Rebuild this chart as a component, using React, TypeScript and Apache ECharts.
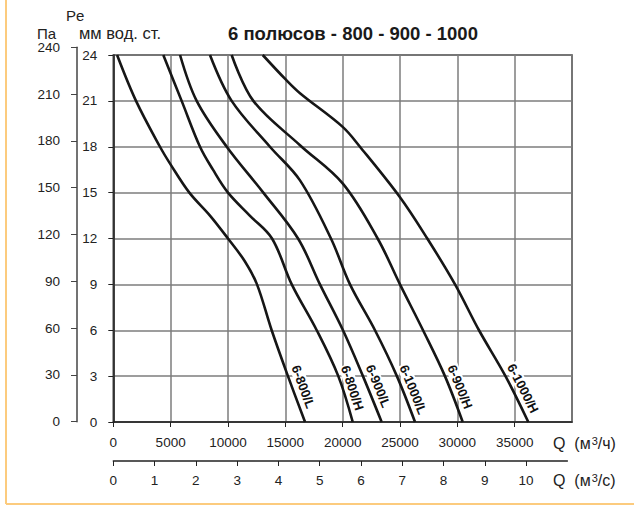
import React, { useEffect, useRef } from 'react';
import * as echarts from 'echarts';

// ---- Data (Q in m³/h, Pe in mm w.c.) ----
const curveNames = ['6-800/L', '6-800/H', '6-900/L', '6-1000/L', '6-900/H', '6-1000/H'];

const curve800L: [number, number][] = [
  [330, 24], [1980, 21], [4070, 18], [5030, 16.8], [6630, 15], [8430, 13.5],
  [10000, 12], [11480, 10.5], [12530, 9], [13810, 6], [15230, 3], [16720, 0],
];
const curve800H: [number, number][] = [
  [4360, 24], [5960, 21], [7560, 18], [8690, 16.5], [10000, 15], [11900, 13.5], [13840, 12],
  [15560, 9], [17740, 6], [19620, 3], [20880, 0],
];
const curve900L: [number, number][] = [
  [5820, 24], [7270, 21], [9890, 18], [13080, 15], [16110, 12],
  [18020, 9], [20030, 6], [21770, 3], [23400, 0],
];
const curve1000L: [number, number][] = [
  [8430, 24], [10320, 21], [13660, 18], [16280, 15.8], [18980, 12],
  [20640, 9], [22820, 6], [24730, 3], [26310, 0],
];
const curve900H: [number, number][] = [
  [10320, 24], [12210, 21], [16280, 18.1], [20000, 15.6], [23050, 12],
  [25000, 9], [27010, 6], [28920, 3], [30470, 0],
];
const curve1000H: [number, number][] = [
  [13030, 24], [15030, 22.4], [16280, 21.5], [20000, 19.3], [21510, 18], [25000, 14.7],
  [27380, 12], [29800, 9], [31890, 6], [34200, 3], [36190, 0],
];
const curves = [curve800L, curve800H, curve900L, curve1000L, curve900H, curve1000H];

const flowSecTicks = [0, 1, 2, 3, 4, 5, 6, 7, 8, 9, 10];

const FONT = '"Liberation Sans", Arial, Helvetica, sans-serif';
const INK = '#222';
const GRID = '#7d7d7d';

function qAt(curve: [number, number][], mm: number): number {
  for (let i = 0; i < curve.length - 1; i++) {
    const [x0, y0] = curve[i];
    const [x1, y1] = curve[i + 1];
    if (mm <= y0 && mm >= y1) {
      const t = (y0 - mm) / (y0 - y1);
      return x0 + t * (x1 - x0);
    }
  }
  return curve[curve.length - 1][0];
}

export default function App() {
  const ref = useRef<HTMLDivElement>(null);

  useEffect(() => {
    if (!ref.current) return;
    const chart = echarts.init(ref.current, undefined, { renderer: 'svg' });

    const tickLabel = { color: INK, fontSize: 13.5, fontFamily: FONT };

    chart.setOption({
      animation: false,
      backgroundColor: '#fff',
      grid: [
        { left: 113.3, right: 62, top: 55, bottom: 83, show: true, borderColor: '#333', borderWidth: 1.5 },
        { left: 77, width: 1, top: 47.3, bottom: 83.3 },
        { left: 113.3, right: 66.6, top: 55, bottom: 44 },
      ],
      xAxis: [
        {
          gridIndex: 0, type: 'value', min: 0, max: 40000, interval: 5000,
          axisLine: { show: true, lineStyle: { color: INK, width: 1.5 } },
          axisTick: { show: true, length: 5, lineStyle: { color: INK } },
          axisLabel: { ...tickLabel, margin: 13, showMaxLabel: false, formatter: (v: number) => String(v) },
          splitLine: { show: true, lineStyle: { color: GRID, width: 1.5 } },
        },
        { gridIndex: 1, type: 'value', min: 0, max: 1, show: false },
        {
          gridIndex: 2, type: 'value', min: 0, max: 11, interval: 1,
          axisLine: { show: true, lineStyle: { color: INK, width: 1.5 } },
          axisTick: { show: true, length: 5, customValues: flowSecTicks, lineStyle: { color: INK } },
          axisLabel: { ...tickLabel, margin: 12, customValues: flowSecTicks, formatter: (v: number) => String(v) },
          splitLine: { show: false },
        },
      ],
      yAxis: [
        {
          gridIndex: 0, type: 'value', min: 0, max: 24, interval: 3,
          axisLine: { show: true, lineStyle: { color: INK, width: 1.5 } },
          axisTick: { show: true, length: 5, lineStyle: { color: INK } },
          axisLabel: { ...tickLabel, margin: 16 },
          splitLine: { show: true, lineStyle: { color: GRID, width: 1.5 } },
        },
        {
          gridIndex: 1, type: 'value', min: 0, max: 240, interval: 30,
          axisLine: { show: true, lineStyle: { color: '#444', width: 1.5 } },
          axisTick: { show: true, length: 6, lineStyle: { color: '#444' } },
          axisLabel: { ...tickLabel, margin: 17 },
          splitLine: { show: false },
        },
        { gridIndex: 2, type: 'value', min: 0, max: 1, show: false },
      ],
      series: curves.map((c, i) => ({
        name: curveNames[i],
        type: 'line',
        xAxisIndex: 0,
        yAxisIndex: 0,
        data: c,
        showSymbol: false,
        smooth: 0.35,
        z: 3,
        lineStyle: { color: '#161616', width: 2.6 },
      })),
    });

    const labels: any[] = curves.map((c, i) => {
      const mmStart = 3.5;
      const p1 = chart.convertToPixel({ gridIndex: 0 } as any, [qAt(c, mmStart), mmStart]) as number[];
      const p0 = chart.convertToPixel({ gridIndex: 0 } as any, [c[c.length - 1][0], 0]) as number[];
      const dx = p0[0] - p1[0];
      const dy = p0[1] - p1[1];
      const len = Math.hypot(dx, dy);
      const nx = dy / len;
      const ny = -dx / len;
      const off = 10.5;
      return {
        type: 'text',
        x: p1[0] + nx * off,
        y: p1[1] + ny * off,
        rotation: -Math.atan2(dy, dx),
        z: 1,
        style: {
          text: curveNames[i],
          fontSize: 13,
          fontFamily: FONT,
          fontWeight: 'bold',
          fill: '#111',
          align: 'left',
          verticalAlign: 'middle',
          textAlign: 'left',
          textVerticalAlign: 'middle',
          backgroundColor: '#fff',
          padding: [0, 1],
        },
      };
    });

    const txt = (text: string, x: number, y: number, extra: any = {}) => ({
      type: 'text', x, y,
      style: {
        text, fontSize: 15, fontFamily: FONT, fill: INK,
        align: 'left', verticalAlign: 'middle', textAlign: 'left', textVerticalAlign: 'middle',
        ...extra,
      },
    });

    const unitRich = {
      a: { fontSize: 16, fontFamily: FONT, color: INK },
      s: { fontSize: 11, fontFamily: FONT, color: INK, verticalAlign: 'top', padding: [0, 0, 0, 1] },
    };

    chart.setOption({
      graphic: [
        { type: 'line', shape: { x1: 6, y1: 0, x2: 6, y2: 504 }, style: { stroke: '#FCCB7E', lineWidth: 2 } },
        { type: 'line', shape: { x1: 6, y1: 504, x2: 634, y2: 504 }, style: { stroke: '#FCCB7E', lineWidth: 2 } },
        txt('Pe', 66, 15),
        txt('Па', 37, 33),
        txt('мм вод. ст.', 79, 33, { fontSize: 16.5 }),
        txt('6 полюсов - 800 - 900 - 1000', 228, 33, { fontSize: 18.5, fontWeight: 'bold', fill: '#1a1a1a' }),
        txt('{a|Q  (м}{s|3}{a|/ч)}', 553, 443, { rich: unitRich }),
        txt('{a|Q  (м}{s|3}{a|/с)}', 553, 480, { rich: unitRich }),
        ...labels,
      ],
    });

    return () => chart.dispose();
  }, []);

  return (
    <div
      ref={ref}
      style={{ position: 'absolute', left: 0, top: 0, width: 634, height: 505 }}
    />
  );
}
